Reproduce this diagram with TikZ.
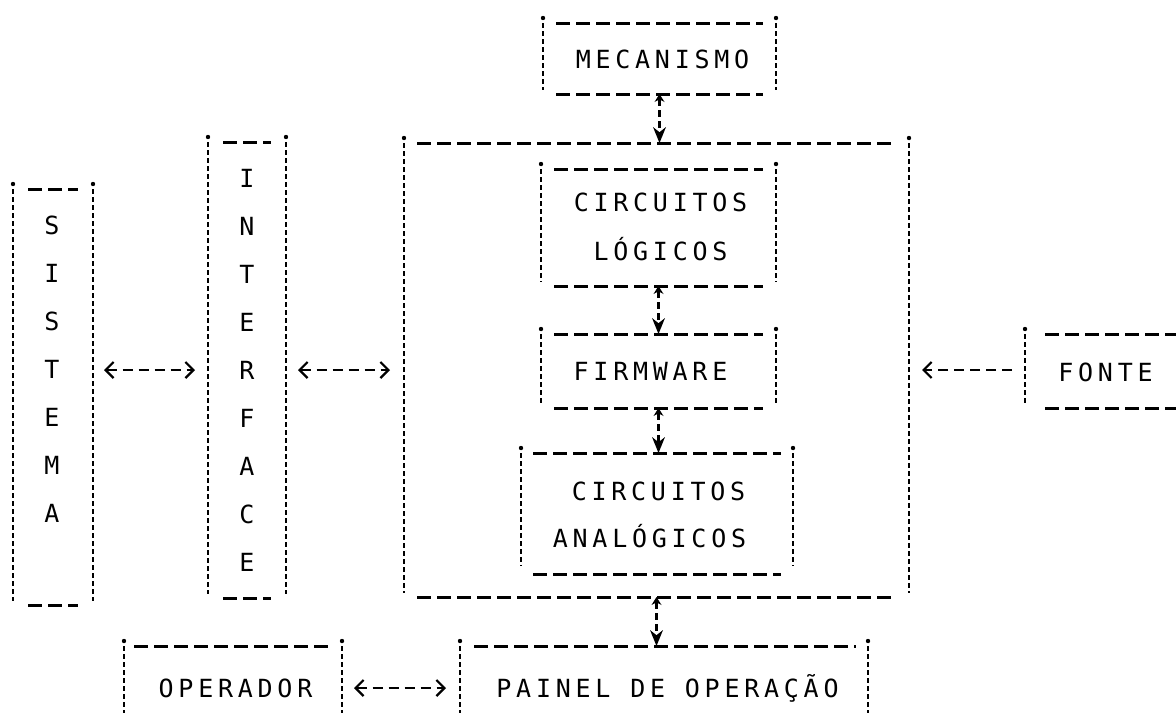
\documentclass[tikz,border=0pt]{standalone}
\usepackage{fontspec}
\newfontfamily\plotfont{DejaVu Sans Mono}[LetterSpace=19]
\usetikzlibrary{arrows.meta,fit}
\tikzset{
  x=1pt, y=-1pt,
  area/.style={inner sep=0pt, outer sep=0pt},
  hline/.style={line width=3pt, dash pattern=on 14pt off 6pt},
  vline/.style={line width=2.2pt, dash pattern=on 5pt off 3pt},
  lbl/.style={font=\plotfont\fontsize{25}{48}\selectfont, inner sep=0pt, anchor=base, xshift=2.5pt},
  vlbl/.style={font=\plotfont\fontsize{25}{48}\selectfont, inner sep=0pt, anchor=base, align=center},
  harrow/.style={line width=2.2pt, dash pattern=on 10pt off 6pt,
    {Straight Barb[length=8pt,width=16pt]}-{Straight Barb[length=8pt,width=16pt]}},
  farrow/.style={line width=2.2pt, dash pattern=on 10pt off 6pt,
    -{Straight Barb[length=8pt,width=16pt]}},
  varrow/.style={line width=2.4pt, dash pattern=on 7pt off 4pt,
    {Stealth[length=8pt,width=10pt,line width=0pt]}-{Stealth[length=16pt,width=13pt,line width=0pt]}},
}
\newcommand\plotdots[1]{%
  \fill ([yshift=5pt]#1.north west) circle (2.2pt);
  \fill ([yshift=5pt]#1.north east) circle (2.2pt);}
\newcommand\plotsides[1]{%
  \plotdots{#1}
  \draw[vline] (#1.north west) -- ([yshift=4pt]#1.south west);
  \draw[vline] (#1.north east) -- ([yshift=4pt]#1.south east);}
\newcommand\plottb[2]{%
  \draw[hline] ([xshift=#2]#1.north west) -- ([xshift=-#2]#1.north east);
  \draw[hline] ([xshift=#2]#1.south west) -- ([xshift=-#2]#1.south east);}
\begin{document}
\begin{tikzpicture}
\fill[white] (0,0) rectangle (1176,713);
\useasboundingbox (0,0) rectangle (1176,713);

% box areas
\node[area, fit={(543,23)(776,94)}] (mec) {};
\node[area, fit={(404,143)(909,597)}] (big) {};
\node[area, fit={(541,169)(776,286)}] (log) {};
\node[area, fit={(541,334)(776,408)}] (firm) {};
\node[area, fit={(521,453)(793,574)}] (ana) {};
\node[area, fit={(460,646)(868,713)}] (painel) {};
\node[area, fit={(124,646)(342,713)}] (oper) {};
\node[area, fit={(13,189)(93,605)}] (sis) {};
\node[area, fit={(208,142)(286,598)}] (int) {};
\node[area, fit={(1025,334)(1176,408)}] (fonte) {};

% box outlines
\foreach \b in {mec,big,log,firm,sis,int}{\plotsides{\b}}
\plotdots{ana}
\draw[vline] (ana.north west) -- ([yshift=8pt]ana.south west);
\draw[vline] (ana.north east) -- ([yshift=8pt]ana.south east);
\plottb{mec}{13pt}
\plottb{big}{13pt}
\plottb{log}{13pt}
\plottb{firm}{13pt}
\plottb{ana}{12pt}
\plottb{sis}{15pt}
\plottb{int}{15pt}
\plotdots{painel}
\draw[vline] (painel.north west) -- (painel.south west);
\draw[vline] (painel.north east) -- (painel.south east);
\draw[hline] ([xshift=14pt]painel.north west) -- ([xshift=-12pt]painel.north east);
\plotdots{oper}
\draw[vline] (oper.north west) -- (oper.south west);
\draw[vline] (oper.north east) -- (oper.south east);
\draw[hline] ([xshift=10pt]oper.north west) -- ([xshift=-10pt]oper.north east);
\fill ([yshift=5pt]fonte.north west) circle (2.2pt);
\draw[vline] (fonte.north west) -- ([yshift=4pt]fonte.south west);
\draw[hline] ([xshift=20pt]fonte.north west) -- (fonte.north east);
\draw[hline] ([xshift=20pt]fonte.south west) -- (fonte.south east);

% labels
\node[lbl] (tmec) at (660,68) {MECANISMO};
\node[lbl] (tlog1) at (658,211) {CIRCUITOS};
\node[lbl] (tlog2) at (658,260) {LÓGICOS};
\node[lbl] (tfirm) at (648,380) {FIRMWARE};
\node[lbl] (tana1) at (656,500) {CIRCUITOS};
\node[lbl] (tana2) at (647,547) {ANALÓGICOS};
\node[lbl] (tfonte) at (1103,381) {FONTE};
\node[lbl] (toper) at (233,697) {OPERADOR};
\node[lbl] (tpainel) at (665,697) {PAINEL DE OPERAÇÃO};
\node[vlbl] (tsis) at (52,522) {S\\I\\S\\T\\E\\M\\A};
\node[vlbl] (tint) at (247,571) {I\\N\\T\\E\\R\\F\\A\\C\\E};

% connectors
\coordinate (row) at (0,370);
\coordinate (orow) at (0,688);
\draw[varrow] (mec.south) -- (mec.south |- big.north);
\draw[varrow] (log.south) -- (log.south |- firm.north);
\draw[varrow] (firm.south) -- (firm.south |- ana.north);
\draw[varrow] (big.south) -- (big.south |- painel.north);
\draw[harrow, shorten <=11pt, shorten >=13pt] (sis.east |- row) -- (int.west |- row);
\draw[harrow, shorten <=12pt, shorten >=14pt] (int.east |- row) -- (big.west |- row);
\draw[farrow, shorten <=13pt, shorten >=13pt] (fonte.west |- row) -- (big.east |- row);
\draw[harrow, shorten <=12pt, shorten >=14pt] (oper.east |- orow) -- (painel.west |- orow);
\end{tikzpicture}
\end{document}
